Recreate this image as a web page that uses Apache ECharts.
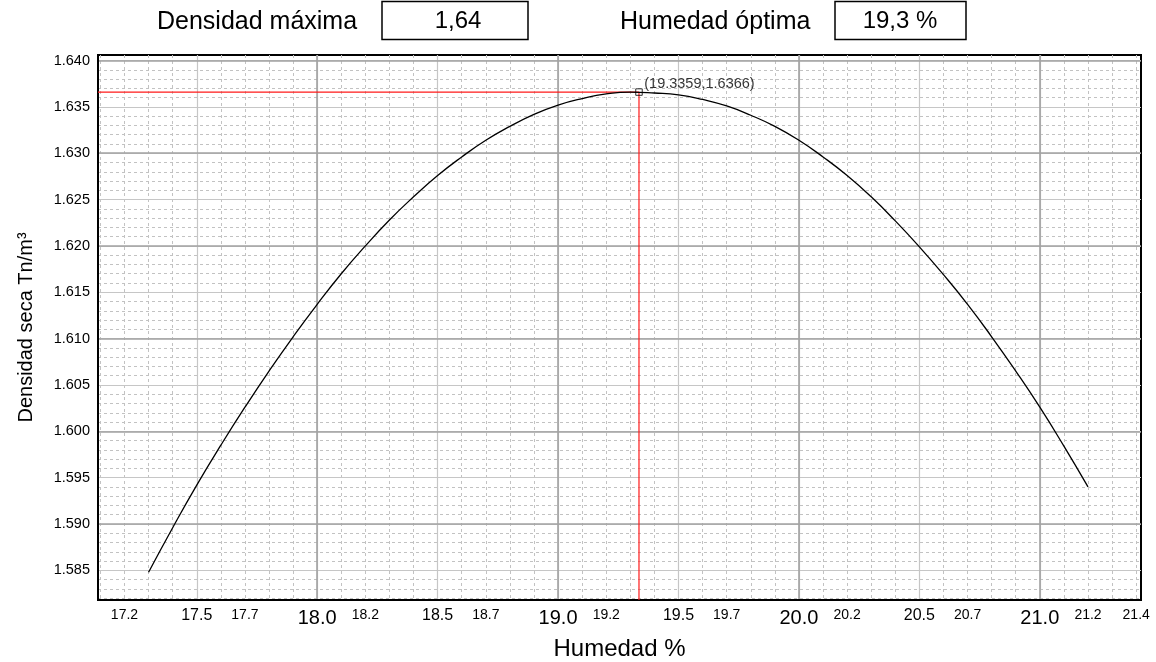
<!DOCTYPE html>
<html><head><meta charset="utf-8">
<script src="https://cdn.jsdelivr.net/npm/echarts@6/dist/echarts.min.js"></script>
<style>html,body{margin:0;padding:0;background:#fff}#c{width:1156px;height:662px}</style>
</head><body><div id="c"></div>
<script>
// ---- data ----
const humedad = [17.3,17.4,17.5,17.6,17.7,17.8,17.9,18.0,18.1,18.2,18.3,18.4,18.5,18.6,18.7,18.8,18.9,19.0,19.1,19.2,19.3,19.4,19.5,19.6,19.7,19.8,19.9,20.0,20.1,20.2,20.3,20.4,20.5,20.6,20.7,20.8,20.9,21.0,21.1,21.2];
const densidad = [1.5848,1.5896,1.5942,1.5985,1.6026,1.6065,1.6102,1.6137,1.6170,1.6200,1.6228,1.6253,1.6276,1.6296,1.6314,1.6329,1.6342,1.6352,1.6359,1.6364,1.6366,1.6365,1.6363,1.6358,1.6351,1.6341,1.6329,1.6314,1.6296,1.6276,1.6253,1.6227,1.6199,1.6169,1.6137,1.6102,1.6065,1.6026,1.5984,1.5940];
const peakX = 19.3359;
const peakY = 1.6366;
const densidadMaximaLabel = 'Densidad máxima';
const densidadMaxima = '1,64';
const humedadOptimaLabel = 'Humedad óptima';
const humedadOptima = '19,3 %';
const xTickLabels = [17.2,17.5,17.7,18.0,18.2,18.5,18.7,19.0,19.2,19.5,19.7,20.0,20.2,20.5,20.7,21.0,21.2,21.4];
const yTickLabels = [1.585,1.590,1.595,1.600,1.605,1.610,1.615,1.620,1.625,1.630,1.635,1.640];
const xRange = [17.09, 21.42];
const yRange = [1.5818, 1.6406];
const xTitle = 'Humedad %';
const yTitle = 'Densidad seca Tn/m³';

// ---- styles ----
const FONT = '"Liberation Sans", Arial, Helvetica, sans-serif';
const dashed = {color:'#c2c2c2', width:1, type:[3,3]};
const light = {color:'#c6c6c6', width:1.2};
const dark = {color:'#a2a2a2', width:1.6};

function ax(kind, step, ls, z, extra) {
  const r = kind === 'x' ? xRange : yRange;
  return Object.assign({
    type:'value', gridIndex:0, position: kind === 'x' ? 'bottom' : 'left', offset:0,
    min:r[0], max:r[1], minInterval:step, maxInterval:step, z:z,
    axisLine:{show:false}, axisTick:{show:false}, axisLabel:{show:false},
    splitLine:{show:true, showMinLine:false, showMaxLine:false, lineStyle:ls}
  }, extra || {});
}

const chart = echarts.init(document.getElementById('c'), null, {renderer:'canvas'});
chart.setOption({
  animation:false,
  textStyle:{fontFamily:FONT, color:'#000'},
  grid:{left:98, right:15, top:55, bottom:62, show:true, borderColor:'#000', borderWidth:2, backgroundColor:'#fff', outerBoundsMode:'none', containLabel:false},
  xAxis:[
    ax('x', 0.1, dashed, 0),
    ax('x', 0.5, light, 1),
    ax('x', 1, dark, 2, {
      axisLine:{show:true, onZero:false, lineStyle:{color:'#000', width:2}},
      axisLabel:{show:true, customValues:xTickLabels, margin:8, color:'#000', fontFamily:FONT,
        formatter:function(v){const s=v.toFixed(1);const t=Math.round(v*10)%10;return '{'+(t===0?'a':(t===5?'b':'c'))+'|'+s+'}';},
        rich:{a:{fontSize:20,fontFamily:FONT,color:'#000'},b:{fontSize:16,fontFamily:FONT,color:'#000'},c:{fontSize:14,fontFamily:FONT,color:'#000'}}},
      name:xTitle, nameLocation:'middle', nameGap:37, nameTextStyle:{fontSize:24, fontFamily:FONT, color:'#000'}
    })
  ],
  yAxis:[
    ax('y', 0.001, dashed, 0),
    ax('y', 0.005, light, 1),
    ax('y', 0.01, dark, 2, {
      axisLine:{show:true, onZero:false, lineStyle:{color:'#000', width:2}},
      axisLabel:{show:true, customValues:yTickLabels, margin:8, color:'#000', fontSize:14.5, fontFamily:FONT, padding:[0,0,6,0],
        formatter:function(v){return v.toFixed(3);}},
      name:yTitle, nameLocation:'middle', nameGap:62, nameTextStyle:{fontSize:20, fontFamily:FONT, color:'#000'}
    })
  ],
  series:[
    {type:'line', name:'guia', xAxisIndex:2, yAxisIndex:2, z:5, silent:true, symbol:'none',
      lineStyle:{color:'#ff1a1a', width:1.2},
      data:[[xRange[0], peakY],[peakX, peakY],[peakX, yRange[0]]]},
    {type:'line', name:'curva', xAxisIndex:2, yAxisIndex:2, z:6, symbol:'none', smooth:0.5,
      lineStyle:{color:'#000', width:1.3},
      data:humedad.map((x,i)=>[x, densidad[i]])},
    {type:'scatter', name:'max', xAxisIndex:2, yAxisIndex:2, z:7, symbol:'rect', symbolSize:6.5,
      itemStyle:{color:'rgba(255,255,255,0)', borderColor:'#000', borderWidth:1},
      label:{show:true, position:'right', distance:1.5, offset:[0,-8], fontSize:14.5, fontFamily:FONT, color:'#000',
        formatter:'(' + peakX + ',' + peakY + ')'},
      data:[[peakX, peakY]]}
  ],
  graphic:[
    {type:'text', x:157, y:22, style:{text:densidadMaximaLabel, fontSize:25, fontFamily:FONT, fill:'#000', align:'left', verticalAlign:'middle'}},
    {type:'rect', shape:{x:382, y:1.5, width:146, height:38}, style:{fill:'none', stroke:'#000', lineWidth:1.5}},
    {type:'text', x:458, y:21, style:{text:densidadMaxima, fontSize:24, fontFamily:FONT, fill:'#000', align:'center', verticalAlign:'middle'}},
    {type:'text', x:620, y:22, style:{text:humedadOptimaLabel, fontSize:25, fontFamily:FONT, fill:'#000', align:'left', verticalAlign:'middle'}},
    {type:'rect', shape:{x:835, y:1.5, width:131, height:38}, style:{fill:'none', stroke:'#000', lineWidth:1.5}},
    {type:'text', x:900, y:21, style:{text:humedadOptima, fontSize:24, fontFamily:FONT, fill:'#000', align:'center', verticalAlign:'middle'}}
  ]
});
</script>
</body></html>
